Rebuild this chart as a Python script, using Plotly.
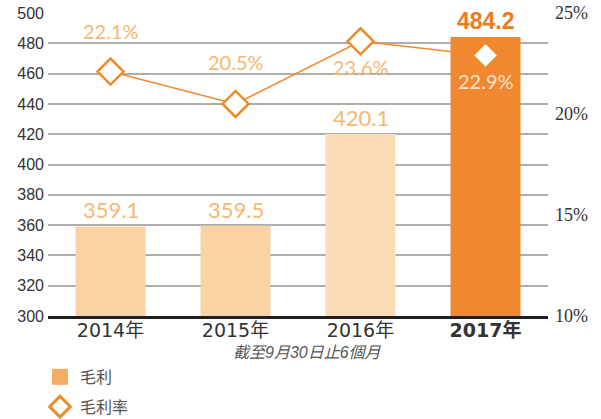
import plotly.graph_objects as go

years = ["2014年", "2015年", "2016年", "2017年"]
gross_profit = [359.1, 359.5, 420.1, 484.2]
margin_pct = [22.1, 20.5, 23.6, 22.9]
bar_colors = ["#FBD2A3", "#FBD2A3", "#FCDCB6", "#F08731"]
left_ticks = [300, 320, 340, 360, 380, 400, 420, 440, 460, 480, 500]
right_ticks = [10, 15, 20, 25]
subtitle = "截至9月30日止6個月"

CJK = "DejaVu Sans, Noto Sans CJK TC, sans-serif"
HUM = "Lato, Open Sans, sans-serif"

fig = go.Figure()
fig.add_trace(go.Bar(
    x=years, y=gross_profit, width=0.56,
    marker=dict(color=bar_colors, line=dict(width=0)),
    showlegend=False, hoverinfo="skip",
))
fig.add_trace(go.Scatter(
    x=years, y=margin_pct, yaxis="y2", mode="lines+markers",
    line=dict(color="#EF8A2B", width=1.5),
    marker=dict(symbol="diamond", size=20, color="white",
                line=dict(color="#EF8A2B", width=2.5)),
    showlegend=False, hoverinfo="skip",
))
# legend-only traces
fig.add_trace(go.Scatter(x=[years[0]], y=[None], name="毛利", mode="markers",
                         legendgroup="a",
                         marker=dict(symbol="square", size=17, color="#F5AD63"),
                         showlegend=True))
fig.add_trace(go.Scatter(x=[years[0]], y=[None], name="毛利率", mode="markers", yaxis="y2",
                         legendgroup="b",
                         marker=dict(symbol="diamond", size=17, color="white",
                                     line=dict(color="#EF8A2B", width=3)),
                         showlegend=True))

ann = []
for i, (yr, v) in enumerate(zip(years, gross_profit)):
    last = i == len(years) - 1
    ann.append(dict(
        x=yr, y=v, xref="x", yref="y", yanchor="bottom", yshift=1, showarrow=False,
        text=(f"<b>{v:.1f}</b>" if last else f"{v:.1f}"),
        font=dict(family=("Liberation Sans, sans-serif" if last else HUM),
                  size=(23 if last else 22),
                  color=("#EE7A1E" if last else "#F6B774")),
    ))
shifts = [41, 42, -26, -26]
pct_colors = ["#F6B774", "#F6B774", "#F6B774", "#FDE3C8"]
for yr, p, s, c in zip(years, margin_pct, shifts, pct_colors):
    ann.append(dict(
        x=yr, y=p, xref="x", yref="y2", yshift=s, showarrow=False,
        text=f"{p:.1f}%", font=dict(family=HUM, size=20, color=c),
    ))
ann.append(dict(x=0.518, y=-0.119, xref="paper", yref="paper", yanchor="middle",
                showarrow=False,
                text=f"<i>{subtitle}</i>",
                font=dict(family="Liberation Sans, Noto Sans CJK TC, sans-serif",
                          size=16, color="#555555")))

fig.update_layout(
    width=601, height=419,
    margin=dict(l=48, r=53, t=13, b=103, autoexpand=False),
    paper_bgcolor="white", plot_bgcolor="white",
    barmode="overlay",
    xaxis=dict(
        categoryorder="array", categoryarray=years,
        tickvals=years,
        ticktext=[y if i < 3 else f"<b>{y}</b>" for i, y in enumerate(years)],
        tickfont=dict(family=CJK, size=19, color="#333333"),
        showline=True, linecolor="#1E1E1E", linewidth=3, ticks="", showgrid=False,
        ticklabelstandoff=-5,
    ),
    yaxis=dict(
        range=[300, 500], tickvals=left_ticks, showgrid=True, gridcolor="#AEAEAE",
        gridwidth=1.5, zeroline=False, ticks="", ticklabelstandoff=3,
        ticklabeloverflow="allow",
        tickfont=dict(family="Liberation Sans, sans-serif", size=16, color="#333333"),
    ),
    yaxis2=dict(
        range=[10, 25], overlaying="y", side="right", tickvals=right_ticks,
        ticktext=[f"{t}%" for t in right_ticks], showgrid=False, zeroline=False,
        ticklabeloverflow="allow", ticklabelstandoff=6,
        tickfont=dict(family="Liberation Serif, serif", size=18, color="#333333"),
    ),
    legend=dict(x=-0.016, y=-0.145, xanchor="left", yanchor="top", orientation="v",
                font=dict(family="Liberation Sans, Noto Sans CJK TC, sans-serif",
                          size=16, color="#555555"), tracegroupgap=6,
                itemwidth=30, bgcolor="rgba(0,0,0,0)"),
    annotations=ann,
)
fig.write_html("out.html", config={"displayModeBar": False},
               post_script="document.body.style.margin='0px';document.body.style.padding='0px';")
